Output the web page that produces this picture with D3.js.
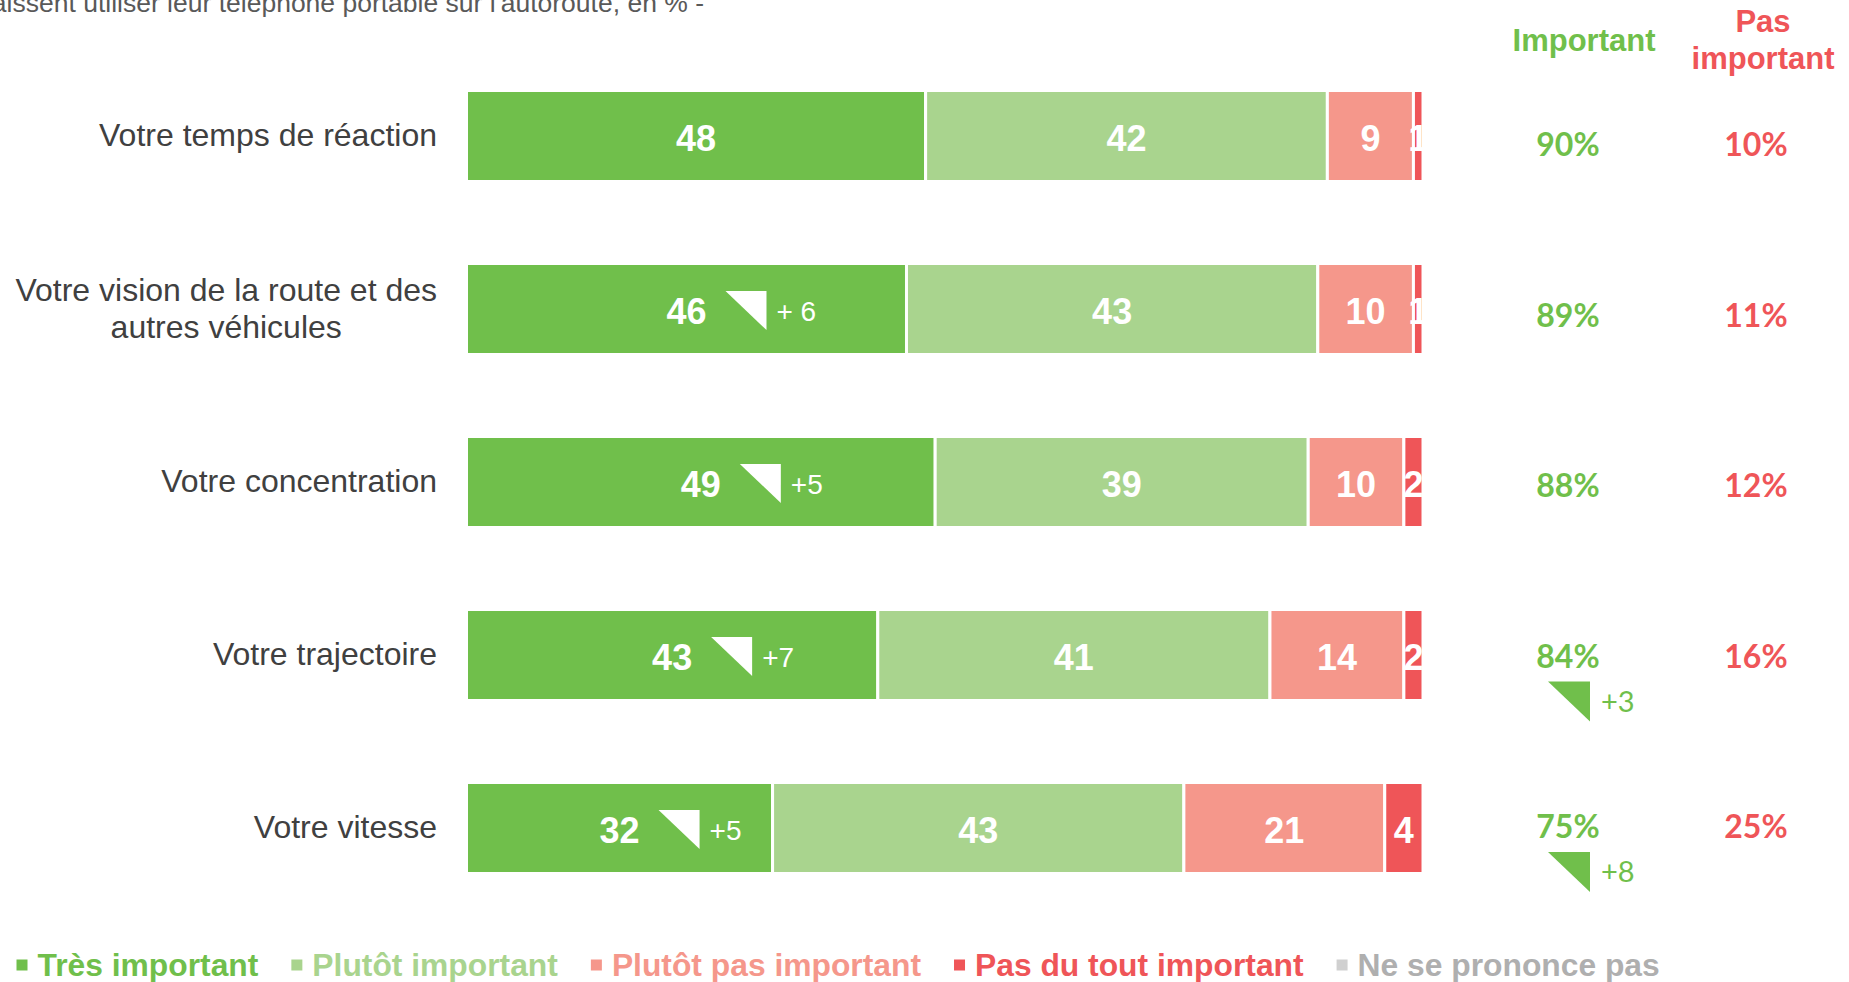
<!DOCTYPE html>
<html><head><meta charset="utf-8">
<script src="https://cdn.jsdelivr.net/npm/d3@7"></script>
<style>body{margin:0;background:#fff;} svg{display:block;}</style>
</head><body>
<svg id="chart" width="1849" height="982"></svg>
<script>
const categories = [
  ["Votre temps de réaction"],
  ["Votre vision de la route et des", "autres véhicules"],
  ["Votre concentration"],
  ["Votre trajectoire"],
  ["Votre vitesse"]
];
const seriesNames = ["Très important", "Plutôt important", "Plutôt pas important", "Pas du tout important", "Ne se prononce pas"];
const tresImportant = [48, 46, 49, 43, 32];
const plutotImportant = [42, 43, 39, 41, 43];
const plutotPasImportant = [9, 10, 10, 14, 21];
const pasDuToutImportant = [1, 1, 2, 2, 4];
const neSePrononcePas = [0, 0, 0, 0, 0];
const totalImportant = [90, 89, 88, 84, 75];
const totalPasImportant = [10, 11, 12, 16, 25];
const evolTresImportant = ["", "+ 6", "+5", "+7", "+5"];
const evolImportant = ["", "", "", "+3", "+8"];
const titleText = "aissent utiliser leur téléphone portable sur l'autoroute, en % -";

const colors = ["#70BF4B", "#A9D48E", "#F5978B", "#EF5558", "#D0D0D0"];
const legendTextColors = ["#70BF4B", "#A9D48E", "#F5978B", "#EF5558", "#AFAFAF"];
const green = "#70BF4B", red = "#EF5558";
const FONT = "Liberation Sans, Arial, sans-serif";

const svg = d3.select("#chart");
const keys = categories.map((c, i) => i);
const x = d3.scaleLinear().domain([0, 100]).range([466.5, 1423]);
const y = d3.scaleBand().domain(keys).range([49.5, 914.5]).paddingInner(0.474).paddingOuter(0.237);
const yPct = d3.scalePoint().domain(keys).range([144, 826]);

const series = [tresImportant, plutotImportant, plutotPasImportant, pasDuToutImportant, neSePrononcePas];
const rows = keys.map(i => {
  const o = {i};
  series.forEach((s, k) => o["s" + k] = s[i]);
  return o;
});
const stack = d3.stack().keys(series.map((s, k) => "s" + k))(rows);

// title (cut at the top like the reference)
svg.append("text").attr("x", 704).attr("y", 12).attr("text-anchor", "end")
  .attr("font-family", FONT).attr("font-size", 26.5)
  .attr("fill", "#595959").text(titleText);

// bars
const layers = svg.append("g").selectAll("g").data(stack).join("g")
  .attr("fill", (d, k) => colors[k]);
layers.selectAll("rect").data(d => d).join("rect")
  .attr("x", d => x(d[0]))
  .attr("y", d => y(d.data.i))
  .attr("width", d => Math.max(0, x(d[1]) - x(d[0])))
  .attr("height", y.bandwidth())
  .attr("stroke", "#fff").attr("stroke-width", 3);

// value labels
stack.forEach((layer, k) => {
  svg.append("g").selectAll("text").data(layer.filter(d => d[1] - d[0] > 0)).join("text")
    .attr("x", d => (x(d[0]) + x(d[1])) / 2)
    .attr("y", d => y(d.data.i) + y.bandwidth() / 2 + 15)
    .attr("text-anchor", "middle")
    .attr("font-family", FONT).attr("font-weight", "bold")
    .attr("font-size", 36).attr("fill", "#fff")
    .text(d => d[1] - d[0]);
});

// evolution markers inside bars
keys.forEach(i => {
  if (!evolTresImportant[i]) return;
  const cx = (x(0) + x(tresImportant[i])) / 2;
  const cy = y(i) + y.bandwidth() / 2;
  const tx = cx + 39, ty = cy - 18, w = 41, h = 39;
  svg.append("path").attr("d", `M${tx},${ty}L${tx + w},${ty}L${tx + w},${ty + h}Z`).attr("fill", "#fff");
  svg.append("text").attr("x", tx + w + 10).attr("y", cy + 12)
    .attr("font-family", FONT).attr("font-size", 28).attr("fill", "#fff")
    .text(evolTresImportant[i]);
});

// category labels
const labelX = 437;
keys.forEach(i => {
  const lines = categories[i];
  const cy = y(i) + y.bandwidth() / 2;
  const lh = 37;
  const g = svg.append("g");
  const first = g.append("text").attr("x", labelX).attr("text-anchor", "end")
    .attr("y", cy - (lines.length - 1) * lh / 2 + 10)
    .attr("font-family", FONT).attr("font-size", 32)
    .attr("fill", "#404040").text(lines[0]);
  if (lines.length > 1) {
    const w1 = first.node().getComputedTextLength();
    for (let l = 1; l < lines.length; l++) {
      g.append("text").attr("x", labelX - w1 / 2).attr("text-anchor", "middle")
        .attr("y", cy - (lines.length - 1) * lh / 2 + 10 + l * lh)
        .attr("font-family", FONT).attr("font-size", 32)
        .attr("fill", "#404040").text(lines[l]);
    }
  }
});

// column headers
const gx = 1568, rx = 1756;
svg.append("text").attr("x", 1584).attr("y", 51).attr("text-anchor", "middle")
  .attr("font-family", FONT).attr("font-weight", "bold")
  .attr("font-size", 31).attr("fill", green).text("Important");
svg.append("text").attr("x", 1763).attr("y", 32).attr("text-anchor", "middle")
  .attr("font-family", FONT).attr("font-weight", "bold")
  .attr("font-size", 31).attr("fill", red).text("Pas");
svg.append("text").attr("x", 1763).attr("y", 69).attr("text-anchor", "middle")
  .attr("font-family", FONT).attr("font-weight", "bold")
  .attr("font-size", 31).attr("fill", red).text("important");

// totals
svg.append("g").selectAll("text").data(keys).join("text")
  .attr("x", gx).attr("y", i => yPct(i) + 12).attr("text-anchor", "middle")
  .attr("font-family", "Lato, sans-serif").attr("font-weight", "bold").attr("font-size", 32)
  .attr("fill", green).text(i => totalImportant[i] + "%");
svg.append("g").selectAll("text").data(keys).join("text")
  .attr("x", rx).attr("y", i => yPct(i) + 12).attr("text-anchor", "middle")
  .attr("font-family", "Lato, sans-serif").attr("font-weight", "bold").attr("font-size", 32)
  .attr("fill", red).text(i => totalPasImportant[i] + "%");

// evolution of totals
keys.forEach(i => {
  if (!evolImportant[i]) return;
  const tx = gx - 20, ty = yPct(i) + 26, w = 42, h = 40;
  svg.append("path").attr("d", `M${tx},${ty}L${tx + w},${ty}L${tx + w},${ty + h}Z`).attr("fill", green);
  svg.append("text").attr("x", tx + w + 11).attr("y", ty + 30)
    .attr("font-family", "Lato, sans-serif").attr("font-size", 29).attr("fill", green)
    .text(evolImportant[i]);
});

// legend
let lx = 16.5;
const ly = 965;
seriesNames.forEach((name, k) => {
  svg.append("rect").attr("x", lx).attr("y", ly - 5.5).attr("width", 11).attr("height", 11).attr("fill", colors[k]);
  const t = svg.append("text").attr("x", lx + 21).attr("y", ly + 11)
    .attr("font-family", FONT).attr("font-weight", "bold")
    .attr("font-size", 31.8).attr("fill", legendTextColors[k]).text(name);
  lx += 21 + t.node().getComputedTextLength() + 33;
});
</script>
</body></html>
